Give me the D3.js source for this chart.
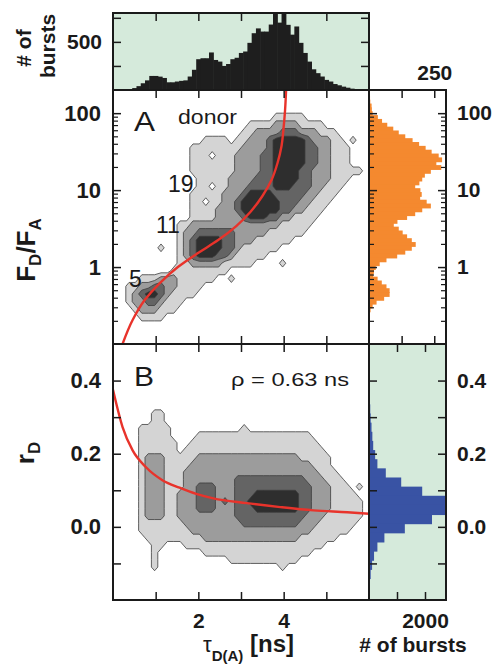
<!DOCTYPE html>
<html>
<head>
<meta charset="utf-8">
<script src="https://cdn.jsdelivr.net/npm/d3@7"></script>
<style>
body { margin: 0; background: #fff; }
text { font-family: "Liberation Sans", Arial, sans-serif; }
</style>
</head>
<body>
<div id="chart"></div>
<script>
// ---- data ----

// top histogram: bursts per 0.1 ns bin of tau_D(A), bin centres from 0.4 ns
var tauBinStart = 0.4, tauBinWidth = 0.1;
var tauCounts = [8,20,40,70,100,146,146,139,125,80,80,88,95,100,140,210,320,330,330,390,
  312,295,250,270,320,335,385,400,490,590,640,607,607,680,800,700,800,677,575,660,
  490,385,295,215,175,140,105,88,62,49,35,24,14,8,4];

// right histogram A: bursts per 0.05 decade of F_D/F_A, bin centres from log10 = 2.2 downwards
var ratioLogTop = 2.2, ratioLogStep = 0.05;
var ratioCounts = [4,5,10,11,14,34,50,70,93,114,139,167,192,217,240,267,280,258,277,237,
  214,204,193,177,197,202,196,221,237,204,177,146,109,95,114,129,146,164,179,164,
  139,108,67,41,26,19,16,33,49,67,79,79,58,29,14,6,3,2,1,1];

// right histogram B: bursts per r_D bin (lower bin edges, width 0.025)
var rBinWidth = 0.025;
var rBinLow = [0.36,0.335,0.31,0.285,0.26,0.235,0.21,0.185,0.16,0.135,0.11,0.085,0.06,0.035,
  0.01,-0.015,-0.04,-0.065,-0.09,-0.115,-0.14,-0.165];
var rCounts = [20,30,45,60,90,120,150,220,300,600,1150,1900,2750,2750,2250,1280,550,300,180,110,60,25];

// 2D burst frequency as contour level per cell (0 empty ... 4 highest)
// panel A: 40 columns of 0.15 ns from 0 ns; rows of 0.1 decade from log10(F_D/F_A) = 2.3 down
var gridA = [
  "0000000000000000000000000000000000000000",
  "0000000000000000000000000000000000000000",
  "0000000000000000000000000000000000000000",
  "0000000000000000000000000111110000000000",
  "0000000000000000000001111222211110000000",
  "0000000000000000000011222233322211100000",
  "0000000000000011110112223444443222110100",
  "0000000000001111111122223444443322111000",
  "0000000000001110111222233444443322111000",
  "0000000000001111111222233444443322111000",
  "0000000000001111111222233444433222111110",
  "0000000000000111112222333444433222111000",
  "0000000000000110112223333444333221110000",
  "0000000000001111122234444333332211100000",
  "0000000000001101122344444433322111000000",
  "0000000000001111222344444433221110000000",
  "0000000000001111222234443322111100000000",
  "0000000000112222222222222211111000000000",
  "0000000000122333333222221111110000000000",
  "0000000000123444433222111111000000000000",
  "0000000100123444433211111100000000000000",
  "0000000000123444332111110000000000000000",
  "0000000000112222211111000010000000000000",
  "0000000001111111110000000000000000000000",
  "0000111222111111001000000000000000000000",
  "0011223322111100000000000000000000000000",
  "0012344321111000000000000000000000000000",
  "0012233211100000000000000000000000000000",
  "0001222111000000000000000000000000000000",
  "0000111100000000000000000000000000000000",
  "0000000000000000000000000000000000000000",
  "0000000000000000000000000000000000000000",
  "0000000000000000000000000000000000000000"
];
// panel B: 40 columns of 0.15 ns; rows of 0.02 from r_D = 0.5 down
var gridB = [
  "0000000000000000000000000000000000000000",
  "0000000000000000000000000000000000000000",
  "0000000000000000000000000000000000000000",
  "0000000000000000000000000000000000000000",
  "0000000000000000000000000000000000000000",
  "0000000000000000000000000000000000000000",
  "0000000000000000000000000000000000000000",
  "0000000000000000000000000000000000000000",
  "0000000000000000000000000000000000000000",
  "0000001100000000000000000000000000000000",
  "0000001100000000000000000000000000000000",
  "0000111110000000000010000000000000000000",
  "0000111110000111111111111111111000000000",
  "0000111111001111111111111111111100000000",
  "0000111111011111111111111111111110000000",
  "0000122211111222222222222222211111000000",
  "0000122211112222222222222222222111000000",
  "0000122211122222222222222222222211100000",
  "0000122211122222222333333333332221110000",
  "0000122211122333222333333333333222111010",
  "0000122211222333222333444444433222111100",
  "0000122211222333232334444444433222111110",
  "0000122211222333222333444444433222111110",
  "0000122211222222222333333333332221111110",
  "0000111111122222222233333333322211111100",
  "0000111111112222222222222222222111111000",
  "0000011111111122222222222222211111100000",
  "0000001100011111111111111111111110000000",
  "0000001000000011111111111111111000000000",
  "0000001000000000001111111111100000000000",
  "0000001000000000000000000010000000000000",
  "0000000000000000000000000000000000000000",
  "0000000000000000000000000000000000000000",
  "0000000000000000000000000000000000000000",
  "0000000000000000000000000000000000000000"
];

// red model lines
var fretTau   = [0.224,0.46,0.743,1.097,1.521,1.993,2.465,2.889,3.219,3.502,3.715,3.856,3.95,3.998,4.033,4.057];
var fretRatio = [0.1,0.205,0.372,0.619,1.0,1.52,2.24,3.41,5.19,8.38,13.5,22.5,37.5,64.2,110,200];
var perrinTau = [0,0.224,0.46,0.774,1.167,1.56,1.95,2.35,3.13,3.92,4.70,5.49,6.0];
var perrinR   = [0.375,0.273,0.209,0.163,0.127,0.107,0.090,0.078,0.065,0.054,0.045,0.040,0.036];

var levelColors = ["#d4d4d4", "#9c9c9c", "#646464", "#2e2e2e"];

// ---- layout ----
var X0 = 113, X1 = 369, XR = 446;
var YT = 13, YA = 90, YB = 344, YE = 600;

var svg = d3.select("#chart").append("svg")
  .attr("width", 495).attr("height", 664);

var x = d3.scaleLinear().domain([0, 6]).range([X0, X1]);
var yA = d3.scaleLog().domain([0.1, 200]).range([YB, YA]);
var yB = d3.scaleLinear().domain([-0.2, 0.5]).range([YE, YB]);
var yHist = d3.scaleLinear().domain([0, 800]).range([YA, YT]);
var xOrange = d3.scaleLinear().domain([0, 295]).range([X1, XR]);
var xBlue = d3.scaleLinear().domain([0, 2750]).range([X1, XR]);

// clip paths
var defs = svg.append("defs");
function clip(id, x0, y0, w, h) {
  defs.append("clipPath").attr("id", id).append("rect")
    .attr("x", x0).attr("y", y0).attr("width", w).attr("height", h);
}
clip("cTop", X0, YT, X1 - X0, YA - YT);
clip("cA", X0, YA, X1 - X0, YB - YA);
clip("cB", X0, YB, X1 - X0, YE - YB);
clip("cO", X1, YA, XR - X1, YB - YA);
clip("cBl", X1, YB, XR - X1, YE - YB);

// backgrounds
svg.append("rect").attr("x", X0).attr("y", YT).attr("width", X1 - X0).attr("height", YA - YT).attr("fill", "#d5eadb");
svg.append("rect").attr("x", X1).attr("y", YB).attr("width", XR - X1).attr("height", YE - YB).attr("fill", "#d5eadb");

// top histogram
svg.append("g").attr("clip-path", "url(#cTop)")
  .selectAll("rect").data(tauCounts).enter().append("rect")
  .attr("x", (d, i) => x(tauBinStart + i * tauBinWidth - tauBinWidth / 2))
  .attr("width", (d, i) => x(tauBinWidth) - x(0) + 0.6)
  .attr("y", d => yHist(d))
  .attr("height", d => yHist(0) - yHist(d))
  .attr("fill", "#1e1e1e");

// orange histogram
var ratioEdge = (i, s) => yA(Math.pow(10, ratioLogTop - i * ratioLogStep + s * ratioLogStep / 2));
svg.append("g").attr("clip-path", "url(#cO)")
  .selectAll("rect").data(ratioCounts).enter().append("rect")
  .attr("x", X1)
  .attr("y", (d, i) => ratioEdge(i, 1))
  .attr("height", (d, i) => ratioEdge(i, -1) - ratioEdge(i, 1) + 1)
  .attr("width", d => xOrange(d) - X1)
  .attr("fill", "#f4892f");

// blue histogram
svg.append("g").attr("clip-path", "url(#cBl)")
  .selectAll("rect").data(rCounts).enter().append("rect")
  .attr("x", X1)
  .attr("y", (d, i) => yB(rBinLow[i] + rBinWidth))
  .attr("height", (d, i) => yB(rBinLow[i]) - yB(rBinLow[i] + rBinWidth) + 1)
  .attr("width", d => xBlue(d) - X1)
  .attr("fill", "#3953a4");

// contour maps
var nx = 40, tauStep = 0.15;
function gridValues(rows) {
  var vals = [];
  rows.forEach(function(s) {
    s = (s + "0".repeat(nx)).slice(0, nx);
    for (var i = 0; i < nx; i++) vals.push(+s[i]);
  });
  return vals;
}
function drawContours(rows, yOf, clipId) {
  var cs = d3.contours().size([nx, rows.length]).thresholds([0.5, 1.5, 2.5, 3.5])(gridValues(rows));
  var path = d3.geoPath(d3.geoTransform({
    point: function(u, v) { this.stream.point(x(u * tauStep), yOf(v)); }
  }));
  svg.append("g").attr("clip-path", "url(#" + clipId + ")")
    .selectAll("path").data(cs).enter().append("path")
    .attr("d", path)
    .attr("fill", (d, i) => levelColors[i])
    .attr("stroke", "#3c3c3c")
    .attr("stroke-width", 0.8)
    .attr("stroke-linejoin", "round");
}
drawContours(gridA, v => yA(Math.pow(10, 2.3 - 0.1 * v)), "cA");
drawContours(gridB, v => yB(0.5 - 0.02 * v), "cB");

// red lines
var lineA = d3.line().x(d => x(d[0])).y(d => yA(d[1])).curve(d3.curveMonotoneY);
svg.append("path").attr("clip-path", "url(#cA)")
  .attr("d", lineA(d3.zip(fretTau, fretRatio)))
  .attr("fill", "none").attr("stroke", "#e8332b").attr("stroke-width", 2.4);
var lineB = d3.line().x(d => x(d[0])).y(d => yB(d[1])).curve(d3.curveMonotoneX);
svg.append("path").attr("clip-path", "url(#cB)")
  .attr("d", lineB(d3.zip(perrinTau, perrinR)))
  .attr("fill", "none").attr("stroke", "#e8332b").attr("stroke-width", 2.4);

// ---- ticks ----
function ticks(axis, tx, ty, width) {
  var g = svg.append("g").attr("transform", "translate(" + tx + "," + ty + ")").call(axis);
  g.select(".domain").remove();
  g.selectAll("text").remove();
  g.selectAll("line").attr("stroke", "#1a1a1a").attr("stroke-width", width || 1.5);
}
var tauTicks = [1, 2, 3, 4, 5];
var logMajor = [1, 10, 100];
var logMinor = [0.2,0.3,0.4,0.5,0.6,0.7,0.8,0.9,2,3,4,5,6,7,8,9,20,30,40,50,60,70,80,90];
var rTicks = [-0.1, 0, 0.1, 0.2, 0.3, 0.4];
var histTicks = [250, 500, 750];

ticks(d3.axisTop(x).tickValues(tauTicks).tickSize(-8), 0, YT);
ticks(d3.axisTop(x).tickValues(tauTicks).tickSize(-8), 0, YA);
ticks(d3.axisBottom(x).tickValues(tauTicks).tickSize(-8), 0, YB);
ticks(d3.axisTop(x).tickValues(tauTicks).tickSize(-8), 0, YB);
ticks(d3.axisBottom(x).tickValues(tauTicks).tickSize(-8), 0, YE);

ticks(d3.axisLeft(yHist).tickValues(histTicks).tickSize(-8), X0, 0);
ticks(d3.axisRight(yHist).tickValues(histTicks).tickSize(-8), X1, 0);

ticks(d3.axisLeft(yA).tickValues(logMajor).tickSize(-8), X0, 0);
ticks(d3.axisLeft(yA).tickValues(logMinor).tickSize(-5), X0, 0, 1.2);
ticks(d3.axisRight(yA).tickValues(logMajor).tickSize(8), X1, 0);
ticks(d3.axisRight(yA).tickValues(logMinor).tickSize(5), X1, 0, 1.2);
ticks(d3.axisLeft(yA).tickValues(logMajor).tickSize(8), XR, 0);
ticks(d3.axisLeft(yA).tickValues(logMinor).tickSize(5), XR, 0, 1.2);

ticks(d3.axisLeft(yB).tickValues(rTicks).tickSize(-8), X0, 0);
ticks(d3.axisRight(yB).tickValues(rTicks).tickSize(8), X1, 0);
ticks(d3.axisLeft(yB).tickValues(rTicks).tickSize(8), XR, 0);

ticks(d3.axisTop(xOrange).tickValues([125, 250]).tickSize(-8), 0, YA);
ticks(d3.axisBottom(xOrange).tickValues([125, 250]).tickSize(-8), 0, YB);
ticks(d3.axisTop(xBlue).tickValues([1000, 2000]).tickSize(-8), 0, YB);
ticks(d3.axisBottom(xBlue).tickValues([1000, 2000]).tickSize(-8), 0, YE);

// frames
function frame(x0, y0, x1, y1) {
  svg.append("rect").attr("x", x0).attr("y", y0).attr("width", x1 - x0).attr("height", y1 - y0)
    .attr("fill", "none").attr("stroke", "#1a1a1a").attr("stroke-width", 2);
}
frame(X0, YT, X1, YA);
frame(X0, YA, X1, YB);
frame(X0, YB, X1, YE);
frame(X1, YA, XR, YB);
frame(X1, YB, XR, YE);

// ---- tick labels ----
function labels(axis, tx, ty, size) {
  var g = svg.append("g").attr("transform", "translate(" + tx + "," + ty + ")").call(axis);
  g.select(".domain").remove();
  g.selectAll("line").remove();
  g.attr("font-family", null).attr("font-size", null);
  g.selectAll("text").attr("font-size", size || 22).attr("font-weight", "bold").attr("fill", "#1a1a1a");
}
var fmtR = d => d3.format(".1f")(d);
var fmtInt = d3.format("d");
labels(d3.axisLeft(yHist).tickValues([500]).tickSize(0).tickPadding(11), X0, 0, 21);
labels(d3.axisLeft(yA).tickValues(logMajor).tickSize(0).tickPadding(12).tickFormat(fmtInt), X0, 0);
labels(d3.axisRight(yA).tickValues(logMajor).tickSize(0).tickPadding(11).tickFormat(fmtInt), XR, 0, 21);
labels(d3.axisLeft(yB).tickValues([0, 0.2, 0.4]).tickSize(0).tickPadding(12).tickFormat(fmtR), X0, 0);
labels(d3.axisRight(yB).tickValues([0, 0.2, 0.4]).tickSize(0).tickPadding(11).tickFormat(fmtR), XR, 0, 21);
labels(d3.axisBottom(x).tickValues([2, 4]).tickSize(0).tickPadding(13).tickFormat(fmtInt), 0, YE, 21);
labels(d3.axisBottom(xBlue).tickValues([2000]).tickSize(0).tickPadding(13).tickFormat(fmtInt), 0, YE, 21);
labels(d3.axisTop(xOrange).tickValues([250]).tickSize(0).tickPadding(10).tickFormat(fmtInt), 0, YA, 21);

// ---- axis titles ----
var t = svg.append("text").attr("transform", "translate(35,250) rotate(-90)")
  .attr("text-anchor", "middle").attr("font-weight", "bold").attr("font-size", 26).attr("fill", "#1a1a1a");
t.append("tspan").text("F");
t.append("tspan").attr("font-size", 17).attr("dy", 6).text("D");
t.append("tspan").attr("dy", -6).text("/F");
t.append("tspan").attr("font-size", 17).attr("dy", 6).text("A");

var t2 = svg.append("text").attr("transform", "translate(34,453) rotate(-90)")
  .attr("text-anchor", "middle").attr("font-weight", "bold").attr("font-size", 26).attr("fill", "#1a1a1a");
t2.append("tspan").text("r");
t2.append("tspan").attr("font-size", 17).attr("dy", 6).text("D");

svg.append("text").attr("transform", "translate(31,48) rotate(-90)")
  .attr("text-anchor", "middle").attr("font-weight", "bold").attr("font-size", 21).attr("fill", "#1a1a1a")
  .text("# of");
svg.append("text").attr("transform", "translate(55,46) rotate(-90)")
  .attr("text-anchor", "middle").attr("font-weight", "bold").attr("font-size", 21).attr("fill", "#1a1a1a")
  .text("bursts");

var t3 = svg.append("text").attr("x", 203).attr("y", 652).attr("fill", "#1a1a1a");
t3.append("tspan").attr("font-size", 22).text("τ");
t3.append("tspan").attr("font-size", 15).attr("font-weight", "bold").attr("dy", 9).text("D(A)");
t3.append("tspan").attr("font-size", 24).attr("font-weight", "bold").attr("dy", -9).text(" [ns]");

svg.append("text").attr("x", 413).attr("y", 652).attr("text-anchor", "middle")
  .attr("font-weight", "bold").attr("font-size", 21).attr("fill", "#1a1a1a").text("# of bursts");

// ---- annotations ----
function note(str, x0, y0, size, len) {
  var el = svg.append("text").attr("x", x0).attr("y", y0).attr("font-size", size).attr("fill", "#1a1a1a").text(str);
  if (len) el.attr("textLength", len).attr("lengthAdjust", "spacingAndGlyphs");
}
note("A", 134, 131, 27, 21);
note("B", 134, 386, 27, 20);
note("donor", 178, 124, 20, 59);
note("19", 168, 192, 23);
note("11", 156, 233, 23);
note("5", 129, 287, 23);
note("ρ = 0.63 ns", 231, 386, 19, 118);
</script>
</body>
</html>
